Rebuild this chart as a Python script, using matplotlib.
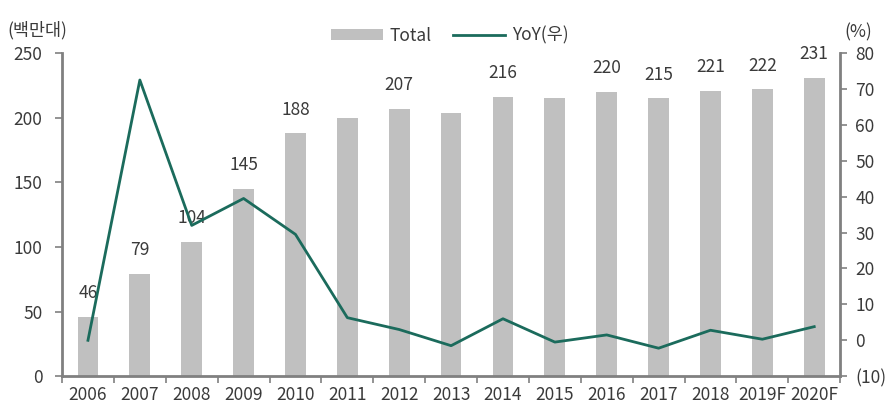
import matplotlib
matplotlib.use("Agg")
import matplotlib.pyplot as plt
from matplotlib.patches import Patch
from matplotlib.lines import Line2D

plt.rcParams['font.family'] = ['Noto Sans CJK KR', 'DejaVu Sans']

years = ["2006", "2007", "2008", "2009", "2010", "2011", "2012", "2013", "2014",
         "2015", "2016", "2017", "2018", "2019F", "2020F"]
total = [46, 79, 104, 145, 188, 200, 207, 204, 216, 215, 220, 215, 221, 222, 231]
yoy = [0, 72.5, 32, 39.5, 29.5, 6.3, 3, -1.5, 6, -0.5, 1.5, -2.2, 2.8, 0.3, 3.8]
labeled = ["2006", "2007", "2008", "2009", "2010", "2012", "2014", "2016", "2017",
           "2018", "2019F", "2020F"]
left_ticks = [0, 50, 100, 150, 200, 250]
right_ticks = [-10, 0, 10, 20, 30, 40, 50, 60, 70, 80]

BAR = "#c0c0c0"
LINE = "#1b6b5c"
TXT = "#3a3a3a"
SPINE = "#808080"
FS = 12.5

fig = plt.figure(figsize=(8.9, 4.18), dpi=100)
ax = fig.add_axes([0.0697, 0.100, 0.8743, 0.773])
x = list(range(len(years)))
ax.bar(x, total, width=0.4, color=BAR, zorder=1)
ax.set_xlim(-0.5, len(years) - 0.5)
ax.set_ylim(0, 250)
ax.set_yticks(left_ticks)
ax.set_xticks(x)
ax.set_xticklabels(years)
ax.set_xticks([i + 0.5 for i in x[:-1]] + [-0.5, len(years) - 0.5], minor=True)
ax.tick_params(axis='x', which='major', length=0, pad=7, labelsize=FS, labelcolor=TXT)
ax.tick_params(axis='x', which='minor', length=5, width=1.2, color=SPINE, direction='out')
ax.tick_params(axis='y', length=5, width=1.2, color=SPINE, labelsize=FS, labelcolor=TXT, pad=9)
for s in ['top', 'right']:
    ax.spines[s].set_visible(False)
for s in ['left', 'bottom']:
    ax.spines[s].set_color(SPINE)
    ax.spines[s].set_linewidth(2)

for i, (yr, v) in enumerate(zip(years, total)):
    if yr in labeled:
        ax.annotate(str(v), (i, v), xytext=(0, 17), textcoords='offset points',
                    ha='center', va='center', fontsize=FS, color=TXT, zorder=5)

ax2 = ax.twinx()
ax2.plot(x, yoy, color=LINE, linewidth=2, zorder=3)
ax2.set_ylim(-10, 80)
ax2.set_yticks(right_ticks)
ax2.set_yticklabels([f"({abs(t)})" if t < 0 else str(t) for t in right_ticks])
ax2.tick_params(axis='y', length=5, width=1.2, color=SPINE, labelsize=FS, labelcolor=TXT, pad=6)
for s in ['top', 'left', 'bottom']:
    ax2.spines[s].set_visible(False)
ax2.spines['right'].set_color(SPINE)
ax2.spines['right'].set_linewidth(2)

fig.text(0.008, 0.927, "(백만대)", fontsize=FS, color=TXT, va='center', ha='left')
fig.text(0.949, 0.923, "(%)", fontsize=FS, color=TXT, va='center', ha='left')

handles = [Patch(facecolor=BAR, edgecolor='none'), Line2D([0], [0], color=LINE, lw=2)]
fig.legend(handles, ["Total", "YoY(우)"], loc='center', bbox_to_anchor=(0.505, 0.915),
           ncol=2, frameon=False, fontsize=FS, handlelength=3.0, handleheight=0.6,
           columnspacing=1.2, handletextpad=0.4, labelcolor=TXT)

fig.savefig("out.png", dpi=100)
